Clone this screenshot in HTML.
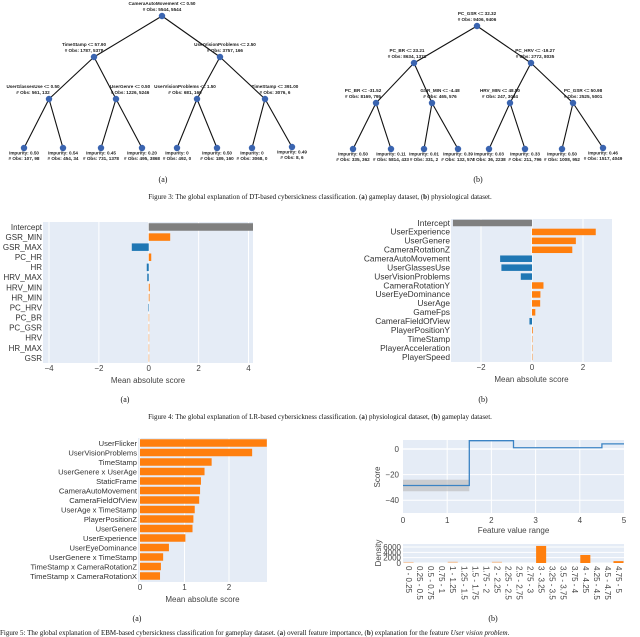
<!DOCTYPE html>
<html><head><meta charset="utf-8"><style>
html,body{margin:0;padding:0;background:#fff;}
svg{display:block;font-family:"Liberation Sans",sans-serif;}
.cap{font-family:"Liberation Serif",serif;font-size:7px;fill:#111;}
.sub{font-family:"Liberation Serif",serif;font-size:8px;fill:#111;}
.tr{font-size:4.6px;font-weight:bold;fill:#222;}
.lab{font-size:8px;fill:#333;}
.labs{font-size:8.4px;fill:#333;}
.lab2{font-size:7.6px;fill:#333;}
.tk{font-size:8px;fill:#444;}
</style></head><body>
<svg id="fig" width="640" height="637" viewBox="0 0 640 637" xmlns="http://www.w3.org/2000/svg">
<rect width="640" height="637" fill="#fff"/>
<g id="treeA"></g>
<g id="treeB"></g>
<text class="sub" x="163" y="182" text-anchor="middle">(a)</text>
<text class="sub" x="478" y="182" text-anchor="middle">(b)</text>
<text class="cap" x="320" y="199" text-anchor="middle">Figure 3: The global explanation of DT-based cybersickness classification. (<tspan font-weight="bold">a</tspan>) gameplay dataset, (<tspan font-weight="bold">b</tspan>) physiological dataset.</text>
<g id="lrA"></g>
<g id="lrB"></g>
<text class="sub" x="125" y="402" text-anchor="middle">(a)</text>
<text class="sub" x="483" y="402" text-anchor="middle">(b)</text>
<text class="cap" x="320" y="419" text-anchor="middle">Figure 4: The global explanation of LR-based cybersickness classification. (<tspan font-weight="bold">a</tspan>) physiological dataset, (<tspan font-weight="bold">b</tspan>) gameplay dataset.</text>
<g id="ebmA"></g>
<g id="ebmB"></g>
<text class="sub" x="137" y="621" text-anchor="middle">(a)</text>
<text class="sub" x="493" y="621" text-anchor="middle">(b)</text>
<text class="cap" x="0" y="635">Figure 5: The global explanation of EBM-based cybersickness classification for gameplay dataset. (<tspan font-weight="bold">a</tspan>) overall feature importance, (<tspan font-weight="bold">b</tspan>) explanation for the feature <tspan font-style="italic">User vision problem</tspan>.</text>
</svg>
<script>
// ---- Figure 4 data ----
const lrACats = ["Intercept","GSR_MIN","GSR_MAX","PC_HR","HR","HRV_MAX","HRV_MIN","HR_MIN","PC_HRV","PC_BR","PC_GSR","HRV","HR_MAX","GSR"];
const lrAVals = [4.5,0.86,-0.68,0.1,-0.08,-0.06,0.04,0.03,-0.02,0.005,0.004,0.003,0.002,0.001];
const lrATicks = [-4,-2,0,2,4];
const lrBCats = ["Intercept","UserExperience","UserGenere","CameraRotationZ","CameraAutoMovement","UserGlassesUse","UserVisionProblems","CameraRotationY","UserEyeDominance","UserAge","GameFps","CameraFieldOfView","PlayerPositionY","TimeStamp","PlayerAcceleration","PlayerSpeed"];
const lrBVals = [-3.1,2.5,1.72,1.58,-1.25,-1.2,-0.44,0.45,0.33,0.32,0.13,-0.1,0.03,0.01,0.005,0.003];
const lrBTicks = [-2,0,2];
// ---- Figure 5 data ----
const ebmCats = ["UserFlicker","UserVisionProblems","TimeStamp","UserGenere x UserAge","StaticFrame","CameraAutoMovement","CameraFieldOfView","UserAge x TimeStamp","PlayerPositionZ","UserGenere","UserExperience","UserEyeDominance","UserGenere x TimeStamp","TimeStamp x CameraRotationZ","TimeStamp x CameraRotationX"];
const ebmVals = [2.85,2.52,1.61,1.45,1.37,1.35,1.33,1.23,1.2,1.18,1.02,0.65,0.52,0.47,0.45];
const ebmTicks = [0,1,2];
const stepX = [0,1.5,2.5,4.5,5];
const stepY = [-28.5,6.5,1,4];
const bandLo = [-33,0,0,0];
const bandHi = [-24,0,0,0];
const scoreTicks = [0,-20,-40];
const featTicks = [0,1,2,3,4,5];
const binLabels = ["0 - 0.25","0.25 - 0.5","0.5 - 0.75","0.75 - 1","1 - 1.25","1.25 - 1.5","1.5 - 1.75","1.75 - 2","2 - 2.25","2.25 - 2.5","2.5 - 2.75","2.75 - 3","3 - 3.25","3.25 - 3.5","3.5 - 3.75","3.75 - 4","4 - 4.25","4.25 - 4.5","4.5 - 4.75","4.75 - 5"];
const binVals = [400,0,0,0,500,0,0,0,500,0,0,0,6400,0,0,0,3000,0,0,700];
const densTicks = [0,2000,4000,6000];

const NS="http://www.w3.org/2000/svg";
function mk(parent, tag, attrs, name, txt){
  const el=document.createElementNS(NS,tag);
  for(const k in attrs) el.setAttribute(k,attrs[k]);
  
  
  if(txt!==undefined) el.textContent=txt;
  parent.appendChild(el);
  return el;
}

// ---- Trees ----
function tree(gid, nodes, edges){
  const g=document.getElementById(gid);
  edges.forEach(e=>{const a=nodes[e[0]],b=nodes[e[1]];
    mk(g,'line',{x1:a.x,y1:a.y,x2:b.x,y2:b.y,stroke:'#111','stroke-width':1.1},'tree-edge');});
  nodes.forEach(n=>{
    mk(g,'circle',{cx:n.x,cy:n.y,r:3.2,fill:'#3a64b0'},'tree-node');
    if(n.leaf){
      mk(g,'text',{x:n.x,y:n.y+6.5,class:'tr','text-anchor':'middle'},'leaf-impurity','Impurity: '+n.t1);
      mk(g,'text',{x:n.x,y:n.y+12,class:'tr','text-anchor':'middle'},'leaf-obs','# Obs: '+n.t2);
    } else {
      mk(g,'text',{x:n.x+(n.dx||0),y:n.y-11,class:'tr','text-anchor':'middle'},'node-split',n.t1);
      mk(g,'text',{x:n.x+(n.dx||0),y:n.y-5,class:'tr','text-anchor':'middle'},'node-obs','# Obs: '+n.t2);
    }
  });
}
const E=[[0,1],[0,2],[1,3],[1,4],[2,5],[2,6],[3,7],[3,8],[4,9],[4,10],[5,11],[5,12],[6,13],[6,14]];
tree('treeA',[
 {x:162,y:16,t1:'CameraAutoMovement <= 0.50',t2:'5544, 5544'},
 {x:94,y:57,t1:'TimeStamp <= 57.90',t2:'1787, 5378',dx:-10},
 {x:220,y:57,t1:'UserVisionProblems <= 2.50',t2:'3757, 166',dx:5},
 {x:49,y:99,t1:'UserGlassesUse <= 0.50',t2:'561, 132',dx:-16},
 {x:116,y:99,t1:'UserGenre <= 0.50',t2:'1226, 5246',dx:14},
 {x:197,y:99,t1:'UserVisionProblems <= 1.50',t2:'681, 160',dx:-12},
 {x:265,y:99,t1:'TimeStamp <= 391.00',t2:'3076, 6',dx:10},
 {x:24,y:148,leaf:1,t1:'0.50',t2:'107, 98'},{x:63,y:148,leaf:1,t1:'0.54',t2:'454, 34'},
 {x:101,y:148,leaf:1,t1:'0.45',t2:'731, 1378'},{x:142,y:148,leaf:1,t1:'0.20',t2:'495, 3868'},
 {x:177,y:148,leaf:1,t1:'0',t2:'492, 0'},{x:217,y:148,leaf:1,t1:'0.50',t2:'189, 160'},
 {x:252,y:148,leaf:1,t1:'0',t2:'3068, 0'},{x:292,y:147,leaf:1,t1:'0.49',t2:'8, 6'}],E);
tree('treeB',[
 {x:477,y:26,t1:'PC_GSR <= 32.32',t2:'9406, 9406'},
 {x:414,y:63,t1:'PC_BR <= 23.21',t2:'8634, 1371',dx:-7},
 {x:531,y:63,t1:'PC_HRV <= -19.27',t2:'2772, 8035',dx:4},
 {x:376,y:103,t1:'PC_BR <= -31.52',t2:'8169, 795',dx:-13},
 {x:432,y:103,t1:'GSR_MIN <= -4.48',t2:'465, 576',dx:8},
 {x:510,y:103,t1:'HRV_MIN <= 48.50',t2:'247, 3034',dx:-10},
 {x:573,y:103,t1:'PC_GSR <= 50.98',t2:'2525, 5001',dx:10},
 {x:353,y:149,leaf:1,t1:'0.50',t2:'335, 362'},{x:391,y:149,leaf:1,t1:'0.11',t2:'5814, 433'},
 {x:424,y:149,leaf:1,t1:'0.01',t2:'331, 2'},{x:458,y:149,leaf:1,t1:'0.39',t2:'132, 574'},
 {x:489,y:149,leaf:1,t1:'0.03',t2:'36, 2238'},{x:525,y:149,leaf:1,t1:'0.33',t2:'211, 796'},
 {x:562,y:149,leaf:1,t1:'0.50',t2:'1008, 952'},{x:603,y:148,leaf:1,t1:'0.46',t2:'1517, 4049'}],E);

// ---- Horizontal bar chart helper ----
function hbar(gid,cats,vals,ticks,o){
  const g=document.getElementById(gid);
  const sx=v=>o.x0+(v-o.vmin)*(o.px1-o.x0)/(o.vmax-o.vmin);
  const sy=i=>o.y0+i*o.step;
  mk(g,'rect',{x:o.px0,y:o.top,width:o.right-o.px0,height:o.bot-o.top,fill:'#e5ecf6'},'plot-background');
  ticks.forEach(t=>{const x=sx(t);
    if(x>o.px0+1&&x<o.right-1) mk(g,'line',{x1:x,y1:o.top,x2:x,y2:o.bot,stroke:'#fff','stroke-width':1},'gridline');
    mk(g,'text',{x:x,y:o.bot+8,class:'tk','text-anchor':'middle'},'x-tick-label',t<0?'\u2212'+(-t):String(t));});
  const cp=document.createElementNS(NS,'clipPath');cp.id=gid+'c';
  const cr=document.createElementNS(NS,'rect');
  cr.setAttribute('x',o.px0);cr.setAttribute('y',o.top);cr.setAttribute('width',o.right-o.px0);cr.setAttribute('height',o.bot-o.top);
  cp.appendChild(cr);g.appendChild(cp);
  const bg=mk(g,'g',{'clip-path':'url(#'+gid+'c)'},'bars');
  cats.forEach((c,i)=>{const y=sy(i),v=vals[i];
    const a=sx(Math.min(0,v)),b=sx(Math.max(0,v));
    let col=v>=0?'#ff7f0e':'#1f77b4'; if(c==='Intercept') col='#7f7f7f'; if(o.allOrange) col='#ff7f0e';
    mk(bg,'rect',{x:a,y:y-o.bh/2,width:Math.max(0.4,b-a),height:o.bh,fill:col},'bar-'+c.toLowerCase().replace(/[^a-z0-9]+/g,'-'));
    mk(g,'text',{x:o.px0-1,y:y+2.8,class:o.lc,'text-anchor':'end'},'y-label',c);});
  mk(g,'text',{x:(o.px0+o.right)/2,y:o.bot+20,class:'tk','text-anchor':'middle'},'x-axis-title','Mean absolute score');
}
hbar('lrA',lrACats,lrAVals,lrATicks,{x0:49,px1:248.5,vmin:-4,vmax:4,px0:43,right:253,top:222,bot:363,y0:227,step:10.08,bh:7.5,lc:'lab'});
hbar('lrB',lrBCats,lrBVals,lrBTicks,{x0:481,px1:583,vmin:-2,vmax:2,px0:451,right:612,top:219,bot:362,y0:223,step:8.93,bh:6.5,lc:'labs'});
hbar('ebmA',ebmCats,ebmVals,ebmTicks,{x0:140,px1:229,vmin:0,vmax:2,px0:138,right:267,top:438,bot:582,y0:443,step:9.5,bh:7.5,lc:'lab2',allOrange:1});

// ---- EBM feature shape plot ----
(function(){
  const g=document.getElementById('ebmB');
  const X0=403,X1=624,T=440,B=513;
  const sx=v=>X0+v*(X1-X0)/5, sy=v=>449-v*1.28;
  mk(g,'rect',{x:X0,y:T,width:X1-X0,height:B-T,fill:'#e5ecf6'},'score-plot-background');
  featTicks.forEach(t=>{if(t>0&&t<5) mk(g,'line',{x1:sx(t),y1:T,x2:sx(t),y2:B,stroke:'#fff'},'gridline');
    mk(g,'text',{x:sx(t),y:523,class:'tk','text-anchor':'middle'},'x-tick-label',String(t));});
  scoreTicks.forEach(t=>{mk(g,'line',{x1:X0,y1:sy(t),x2:X1,y2:sy(t),stroke:'#fff','stroke-width':t===0?1.5:1},'gridline');
    mk(g,'text',{x:X0-4,y:sy(t)+3,class:'tk','text-anchor':'end'},'y-tick-label',t<0?'\u2212'+(-t):String(t));});
  for(let i=0;i<stepY.length;i++){ if(bandHi[i]!==bandLo[i])
    mk(g,'rect',{x:sx(stepX[i]),y:sy(bandHi[i]),width:sx(stepX[i+1])-sx(stepX[i]),height:sy(bandLo[i])-sy(bandHi[i]),fill:'#b8b8b8',opacity:0.6},'confidence-band');}
  let d='';
  for(let i=0;i<stepY.length;i++){ d+=(i===0?'M':'L')+sx(stepX[i])+','+sy(stepY[i])+'L'+sx(stepX[i+1])+','+sy(stepY[i]); }
  mk(g,'path',{d:d,fill:'none',stroke:'#3b83c4','stroke-width':1.3},'score-step-line');
  mk(g,'text',{x:(X0+X1)/2,y:533,class:'tk','text-anchor':'middle'},'x-axis-title','Feature value range');
  mk(g,'text',{x:380,y:477,class:'tk','text-anchor':'middle',transform:'rotate(-90 380 477)'},'y-axis-title','Score');
  // density
  const DT=544,DB=563, dy=v=>DB-v*(DB-547)/6000, bw=(X1-X0)/binLabels.length;
  mk(g,'rect',{x:X0,y:DT,width:X1-X0,height:DB-DT,fill:'#e5ecf6'},'density-plot-background');
  densTicks.forEach(t=>{mk(g,'line',{x1:X0,y1:dy(t),x2:X1,y2:dy(t),stroke:'#fff'},'gridline');
    mk(g,'text',{x:X0-2,y:dy(t)+3,class:'tk','text-anchor':'end','font-size':'7'},'density-tick-label',String(t));});
  binLabels.forEach((l,i)=>{const v=binVals[i];
    if(v>0) mk(g,'rect',{x:X0+i*bw+0.5,y:dy(v),width:bw-1,height:DB-dy(v),fill:'#ff7f0e',opacity:v>=700?1:0.35},'density-bar');
    const cx=X0+i*bw+bw/2;
    mk(g,'text',{x:cx-2.5,y:566,class:'tk','font-size':'7',transform:'rotate(90 '+(cx-2.5)+' 566)'},'density-bin-label',l);});
  mk(g,'text',{x:381,y:553,class:'tk','text-anchor':'middle',transform:'rotate(-90 381 553)'},'density-axis-title','Density');
})();
</script>
</body></html>
